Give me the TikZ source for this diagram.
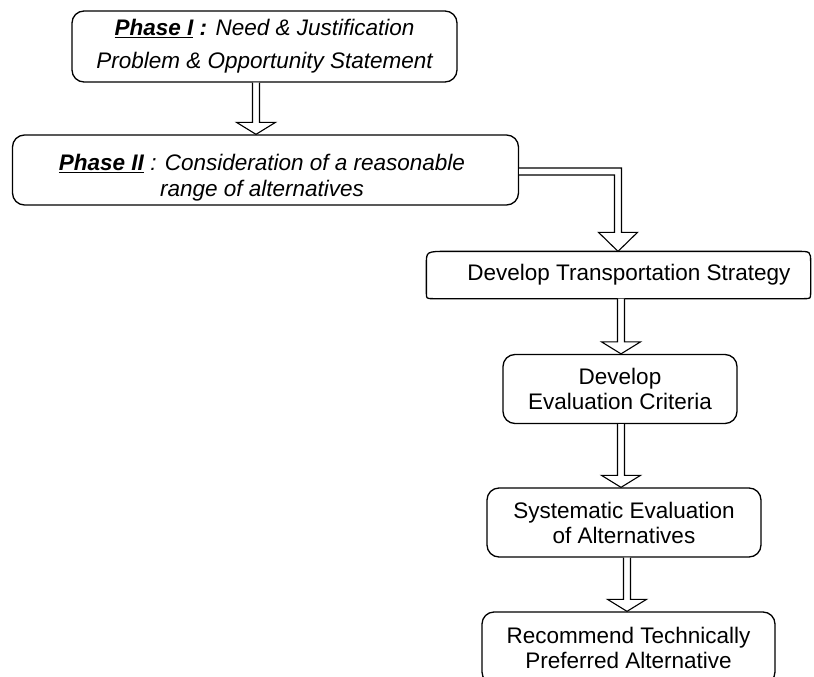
\documentclass[tikz,border=0pt]{standalone}
\usepackage{fontspec}
\setmainfont{Liberation Sans}
\usetikzlibrary{calc}

\begin{document}
\begin{tikzpicture}[x=1pt,y=-1pt,line join=round,
    box/.style={draw,line width=1.3pt,rounded corners=12pt,align=center,inner sep=0pt,
      font=\fontsize{22.5}{25}\selectfont},
    phasebox/.style={box,font=\fontsize{22.5}{25}\selectfont\itshape},
    blockarrow/.style={draw,fill=white,line width=1.1pt,line join=miter}]
  \useasboundingbox (0,0) rectangle (814,677);

  \node[phasebox,minimum width=385pt,minimum height=71pt] (b1) at (264.5,46.5)
    {\textbf{\underline{Phase I} :} Need \& Justification\\[8pt]Problem \& Opportunity Statement};
  \node[phasebox,minimum width=506pt,minimum height=70pt] (b2) at (265.5,170) {};
  \node[font=\fontsize{22.5}{26}\selectfont\itshape,align=center] (t2) at (262,178)
    {\textbf{\underline{Phase II}} : Consideration of a reasonable\\range of alternatives};
  \node[box,draw=none,minimum width=383pt,minimum height=46pt] (b3) at (618.5,275) {};
  \node[font=\fontsize{22.5}{25}\selectfont] (t3) at (629,275) {Develop Transportation Strategy};
  \node[box,minimum width=234pt,minimum height=69pt] (b4) at (620,389)
    {Develop\\Evaluation Criteria};
  \node[box,minimum width=274pt,minimum height=69pt] (b5) at (624,522.5)
    {Systematic Evaluation\\of Alternatives};
  \node[box,minimum width=293pt,minimum height=72pt] (b6) at (628.5,648)
    {Recommend Technically\\Preferred Alternative};

  % outline of the strategy box
  \draw[line width=1.3pt] ([xshift=22pt]b3.north west) -- ([xshift=-14pt]b3.north east)
    .. controls (b3.north east) .. ([yshift=-11pt]b3.north east)
    -- ([yshift=6pt]b3.south east) .. controls (b3.south east) .. ([xshift=-7pt]b3.south east)
    -- ([xshift=7pt]b3.south west) .. controls (b3.south west) .. ([yshift=6pt]b3.south west)
    -- ([yshift=-13pt]b3.north west) .. controls (b3.north west) .. cycle;

  % straight block arrows
  \foreach \src/\dst/\ax in {b1/b2/256,b3/b4/621,b4/b5/621,b5/b6/627} {
      \coordinate (ax) at (\ax,0);
      \draw[blockarrow] let \p1=(ax|-\src.south), \p2=(ax|-\dst.north) in
        (\x1-3.5pt,\y1) -- (\x1-3.5pt,\y2+12pt) -- (\x1-19.5pt,\y2+12pt) -- (\x2,\y2)
        -- (\x1+19.5pt,\y2+12pt) -- (\x1+3.5pt,\y2+12pt) -- (\x1+3.5pt,\y1);
    }

  % elbow arrow from phase II
  \coordinate (bend) at (618,171.5);
  \draw[blockarrow] let \p1=(bend-|b2.east), \p2=(bend|-b3.north), \p3=(bend) in
    (\x1,\y3+3.5pt) -- (\x3+3.5pt,\y3+3.5pt) -- (\x3+3.5pt,\y2+19pt) -- (\x3+19.5pt,\y2+19pt)
    -- (\x2,\y2) -- (\x3-19.5pt,\y2+19pt) -- (\x3-3.5pt,\y2+19pt) -- (\x3-3.5pt,\y3-3.5pt)
    -- (\x1,\y3-3.5pt);
\end{tikzpicture}
\end{document}
